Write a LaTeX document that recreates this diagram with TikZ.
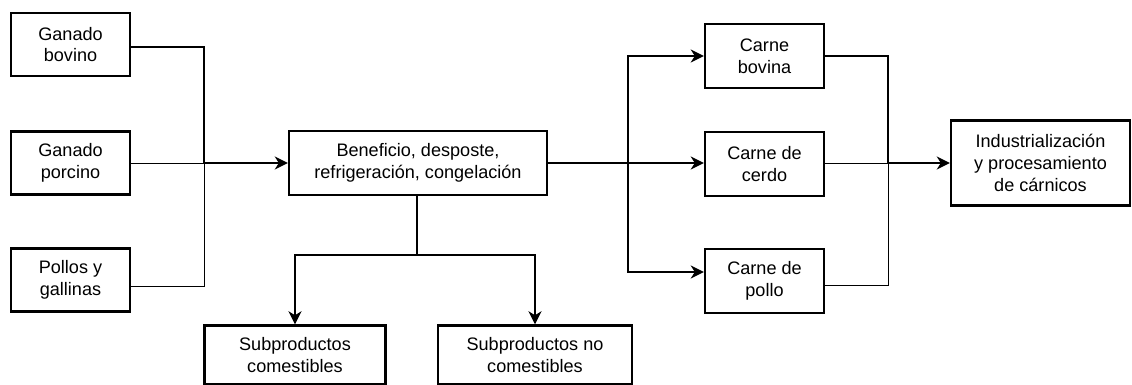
\documentclass[tikz,border=0pt]{standalone}
\usepackage{fontspec}
\setmainfont{Liberation Sans}
\usepackage{tikz}
\usetikzlibrary{arrows.meta, calc}

\tikzset{
	caja/.style = {draw = black, line width = 1.4pt, align = center, inner sep = 1pt, minimum height = 1.26cm, font = \fontsize{10.3}{12.4}\selectfont},
	grueso/.style = {line width = 1.2pt},
	fino/.style = {line width = 0.55pt},
	flecha/.style = {-{Stealth[length = 0.26cm, width = 0.26cm, inset = 0.08cm]}}
}

\begin{document}
\begin{tikzpicture}[x = 0.02cm, y = -0.02cm]
				\useasboundingbox (0,0) rectangle (1132,385);
				% materias primas
				\node[caja, minimum width = 2.38cm] (bov) at (70.5,44.5) {Ganado\\bovino};
				\node[caja, minimum width = 2.38cm] (por) at (70.5,163) {Ganado\\porcino};
				\node[caja, minimum width = 2.38cm] (pol) at (70.5,280) {Pollos y\\gallinas};
				% proceso central
				\node[caja, minimum width = 5.16cm, minimum height = 1.28cm] (ben) at (418,163) {Beneficio, desposte,\\refrigeración, congelación};
				\node[caja, minimum width = 3.62cm, minimum height = 1.18cm] (subc) at (295,355) {Subproductos\\comestibles};
				\node[caja, minimum width = 3.88cm, minimum height = 1.18cm] (subn) at (535,355) {Subproductos no\\comestibles};
				% carnes
				\node[caja, minimum width = 2.38cm, minimum height = 1.28cm] (cbov) at (764.5,56) {Carne\\bovina};
				\node[caja, minimum width = 2.38cm, minimum height = 1.28cm] (ccer) at (764.5,164) {Carne de\\cerdo};
				\node[caja, minimum width = 2.38cm, minimum height = 1.28cm] (cpol) at (764.5,281) {Carne de\\pollo};
				\node[caja, minimum width = 3.58cm, minimum height = 1.7cm] (ind) at (1040.5,163) {Industrialización\\y procesamiento\\de cárnicos};
				% uniones
				\coordinate (jl) at (204,163);
				\coordinate (jb) at (417,255);
				\coordinate (jc) at (628,163);
				\coordinate (jr) at (888,163);
				\draw[grueso] ([yshift = -0.05cm] bov.east) -| (jl);
				\draw[fino] ([yshift = -0.12cm] pol.east) -| (jl);
				\draw[fino] (por.east) -- (jl);
				\draw[grueso, flecha] (jl) -- (ben.west);
				\draw[grueso] (ben.south -| jb) -- (jb);
				\draw[grueso, flecha] (jb) -| (subc.north);
				\draw[grueso, flecha] (jb) -| (subn.north);
				\draw[grueso] (ben.east) -- (jc);
				\draw[grueso, flecha] (jc) |- (cbov.west);
				\draw[grueso, flecha] (jc) -- (ccer.west |- jc);
				\draw[grueso, flecha] (jc) |- ([yshift = 0.18cm] cpol.west);
				\draw[grueso] (cbov.east) -| (jr);
				\draw[fino] (ccer.east |- jr) -- (jr);
				\draw[fino] ([yshift = -0.08cm] cpol.east) -| (jr);
				\draw[grueso, flecha] (jr) -- (ind.west);
			\end{tikzpicture}
\end{document}
